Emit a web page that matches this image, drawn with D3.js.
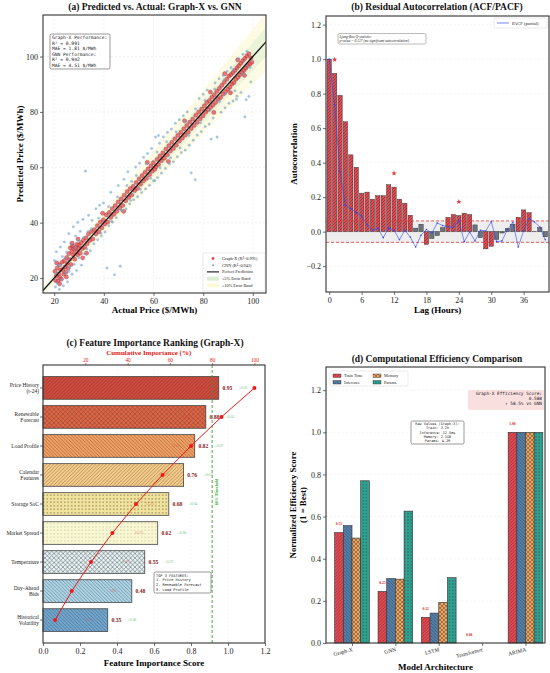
<!doctype html>
<html lang="en">
<head>
<meta charset="utf-8">
<style>
body, html { margin:0; padding:0; background:white; overflow:hidden; }
svg { position:absolute; top:0; left:0; }
</style>
</head>
<body>
<div id="chart"></div>
<script src="https://d3js.org/d3.v7.min.js"></script>
<script>

// ---------- data ----------
// (a) scatter: [actual, predicted]
const graphX = [[20.3,22.4],[20.6,19.1],[20.9,20.8],[21.2,23.6],[21.5,18.9],[21.8,21.5],[22.1,24.8],[22.3,20.2],[22.6,22.9],[22.9,19.6],[23.2,25.7],[23.5,23.1],[23.8,21.4],[24.1,26.3],[24.4,24.0],[24.7,22.1],[25.0,27.4],[25.3,25.2],[25.6,23.5],[25.9,28.8],[26.2,26.7],[26.5,30.9],[26.8,24.9],[27.1,29.6],[27.4,31.5],[27.7,28.3],[28.0,30.6],[28.3,26.8],[28.6,31.0],[28.9,29.5],[29.2,32.2],[29.5,28.4],[29.8,30.7],[30.1,31.9],[30.5,29.0],[30.9,32.8],[31.3,30.6],[31.8,33.7],[32.3,31.1],[32.8,34.5],[33.3,32.4],[33.8,35.9],[34.4,33.6],[35.0,36.8],[35.6,34.1],[36.2,37.5],[36.8,35.9],[37.4,38.9],[38.0,36.7],[38.6,40.2],[39.2,38.1],[39.8,41.0],[40.4,39.5],[41.0,42.8],[41.6,40.2],[42.2,43.7],[42.8,41.9],[43.4,45.1],[44.0,43.0],[44.6,46.2],[45.2,44.1],[45.8,47.5],[46.4,45.3],[47.0,48.6],[47.6,46.2],[48.2,49.9],[48.8,47.9],[49.4,51.2],[50.0,49.1],[50.6,52.3],[51.2,50.0],[51.8,53.1],[52.4,51.6],[53.0,54.5],[53.6,52.4],[54.2,55.8],[54.8,53.9],[55.4,57.0],[56.0,55.1],[56.6,58.2],[57.2,56.0],[57.8,59.4],[58.4,57.3],[59.0,60.5],[59.5,58.6],[60.0,61.7],[60.5,59.3],[61.0,60.2],[61.5,62.9],[62.0,61.0],[62.6,64.1],[63.2,62.4],[63.8,65.2],[64.4,63.3],[65.0,66.6],[65.6,64.5],[66.2,67.8],[66.8,65.9],[67.4,69.0],[68.0,66.8],[68.6,70.3],[69.2,68.0],[69.8,71.5],[70.4,69.4],[71.0,72.6],[71.6,70.5],[72.2,73.9],[72.8,71.6],[73.4,75.1],[74.0,72.7],[74.6,76.3],[75.2,74.0],[75.8,77.4],[76.4,75.1],[77.0,78.8],[77.6,76.2],[78.2,79.9],[78.8,77.5],[79.4,81.0],[80.0,78.6],[80.5,82.2],[81.0,79.9],[81.5,83.4],[82.0,80.8],[82.5,84.1],[83.0,81.6],[83.5,85.3],[84.0,82.5],[84.5,86.2],[85.0,83.4],[85.5,87.4],[86.0,84.6],[86.5,88.5],[87.0,85.2],[87.5,89.6],[88.0,86.4],[88.5,90.7],[89.0,87.3],[89.5,91.8],[90.0,88.2],[90.4,92.9],[90.8,89.0],[91.2,93.5],[91.6,90.1],[92.0,94.2],[92.4,90.6],[92.8,95.0],[93.2,91.8],[93.6,95.9],[94.0,92.5],[94.4,96.7],[94.8,93.4],[95.2,97.6],[95.6,94.3],[96.0,98.5],[96.4,95.0],[96.8,99.3],[97.2,95.8],[97.6,100.2],[98.0,96.7],[98.4,101.0],[98.8,97.3],[99.2,99.5],[99.6,97.9],[88.7,93.8],[91.0,86.9],[93.9,98.8],[96.6,93.2],[84.3,79.8],[82.9,87.2],[72.5,76.8],[66.0,62.1],[57.5,61.8],[48.0,44.1],[39.5,43.4],[33.0,29.0],[27.2,32.6],[24.9,20.4],[22.2,17.9],[21.0,25.5],[29.6,34.1],[31.5,27.3]];

const gnn = [[20.1,26.3],[20.5,16.8],[20.9,29.5],[21.3,18.0],[21.7,24.7],[22.1,15.9],[22.5,31.2],[22.9,19.5],[23.3,27.8],[23.7,17.2],[24.1,33.0],[24.6,21.8],[25.0,29.4],[25.4,18.6],[25.9,36.1],[26.3,23.9],[26.8,32.3],[27.2,21.4],[27.7,38.5],[28.1,25.0],[28.6,35.2],[29.0,22.7],[29.5,40.1],[30.0,27.3],[30.5,36.9],[31.0,24.6],[31.6,41.2],[32.2,28.8],[32.6,58.6],[33.2,30.5],[33.9,42.7],[34.6,29.9],[35.3,40.9],[36.0,32.4],[36.8,45.0],[37.5,33.8],[38.3,46.3],[39.0,35.2],[39.8,47.1],[40.5,36.6],[41.3,23.6],[42.0,38.9],[42.8,51.0],[43.5,40.2],[44.3,21.2],[45.0,41.8],[45.8,53.4],[46.6,24.3],[47.3,44.2],[48.1,55.7],[48.9,45.0],[49.7,58.4],[50.4,46.8],[51.2,54.9],[52.0,48.3],[52.8,60.1],[53.6,49.4],[54.4,61.5],[55.2,50.9],[56.0,63.6],[56.8,52.2],[57.6,65.0],[58.4,53.5],[59.2,66.8],[60.0,55.1],[60.8,70.9],[61.6,56.3],[62.4,68.7],[63.2,57.9],[64.0,71.0],[64.8,59.6],[65.6,72.6],[66.4,61.2],[67.2,73.8],[68.0,62.0],[68.8,75.9],[69.6,63.8],[70.4,77.2],[71.2,65.3],[72.0,78.6],[72.8,66.2],[73.6,80.0],[74.4,68.0],[75.2,58.0],[76.0,69.8],[76.8,55.5],[77.6,71.6],[78.4,84.8],[79.2,72.9],[80.0,86.4],[80.8,74.7],[81.6,87.9],[82.4,75.6],[83.2,70.2],[84.0,77.8],[84.8,90.5],[85.6,70.9],[86.4,92.0],[87.2,79.9],[88.0,93.2],[88.8,81.5],[89.6,94.7],[90.4,83.1],[91.2,96.0],[92.0,83.9],[92.8,87.6],[93.6,85.7],[94.4,99.2],[95.2,87.0],[96.0,100.8],[96.8,78.2],[97.6,101.9],[98.4,85.6],[99.2,90.8],[97.3,84.4],[93.4,84.6],[89.1,86.5],[86.6,83.7],[82.7,80.5],[78.9,76.1],[74.2,71.5],[70.7,67.0],[66.9,63.4],[62.7,59.8],[58.9,56.0],[54.7,52.1],[50.8,48.0],[46.9,44.6],[43.1,40.5],[38.8,36.2],[35.0,37.9],[31.9,34.7],[28.4,30.9],[24.8,27.0],[22.7,24.4],[21.0,21.9],[26.0,22.4],[29.8,33.6],[33.6,36.8],[37.9,41.7],[41.9,45.8],[45.5,49.3],[49.3,53.4],[53.1,57.0],[57.1,61.2],[61.4,65.5],[65.3,69.2],[69.1,72.8],[73.0,76.6],[76.9,81.1],[80.7,84.2],[84.6,88.3],[88.4,91.6],[92.2,95.3],[95.9,93.6],[98.9,96.1],[60.5,55.2],[62.0,71.5]];

const perfBoxLines = ["Graph-X Performance:", "R² = 0.991", "MAE = 1.81 $/MWh", "GNN Performance:", "R² = 0.942", "MAE = 4.51 $/MWh"];
const axTicks = [20, 40, 60, 80, 100];

// (b) autocorrelation, lags 0..40
const acf = [1.0,0.917,0.79,0.637,0.445,0.373,0.223,0.229,0.188,0.208,0.208,0.272,0.258,0.188,0.165,0.095,0.02,0.043,-0.074,-0.04,-0.023,0.023,0.083,0.099,0.093,0.107,0.099,0.039,-0.035,-0.1,-0.085,-0.045,-0.008,0.019,0.043,0.083,0.126,0.11,0.002,0.023,-0.03];
const pacf = [1.0,0.735,0.347,0.153,0.134,0.11,0.091,0.04,0.008,0.019,-0.035,0.021,0.008,-0.047,0.008,-0.031,-0.089,-0.021,0.012,-0.008,0.05,0.035,0.027,0.025,0.066,-0.058,-0.002,-0.054,0.008,0.004,0.058,-0.058,-0.054,0.012,0.054,-0.089,0.004,0.076,0.056,0.027,-0.047];
const confBound = 0.062;
const starLags = [1, 12, 24];
const lagTicks = [0, 6, 12, 18, 24, 30, 36];
const acfTicks = [-0.2, 0.0, 0.2, 0.4, 0.6, 0.8, 1.0, 1.2];

// (c) feature importance
const features = ["Price History\n(t-24)", "Renewable\nForecast", "Load Profile", "Calendar\nFeatures", "Storage SoC", "Market Spread", "Temperature", "Day-Ahead\nBids", "Historical\nVolatility"];
const importance = [0.95, 0.88, 0.82, 0.76, 0.68, 0.62, 0.55, 0.48, 0.35];
const importanceErr = ["±0.03", "±0.05", "±0.07", "±0.05", "±0.04", "±0.06", "±0.07", "", "±0.06"];
const sharePct = ["15.6%", "14.4%", "13.5%", "12.5%", "11.2%", "10.2%", "9.0%", "7.9%", "5.7%"];
const cumulativePct = [100, 84.4, 70.0, 56.5, 44.0, 32.8, 22.7, 13.6, 5.7];
const featColors = ["#d7473a", "#e9643f", "#f8a05f", "#fccf88", "#f3e49b", "#f9f8d2", "#e4f1f5", "#add7ea", "#70a8d3"];
const featHatch = ["fwd", "cross", "back", "fwd", "dots", "fdots", "cross", "back", "back"];
const top3Lines = ["TOP 3 FEATURES:", "1. Price History", "2. Renewable Forecast", "3. Load Profile"];

// (d) efficiency
const models = ["Graph-X", "GNN", "LSTM", "Transformer", "ARIMA"];
const metrics = ["Train Time", "Inference", "Memory", "Params"];
const trainScore = [0.524, 0.245, 0.122, 0.0, 1.0];
const inferScore = [0.557, 0.306, 0.142, 0.0, 1.0];
const memScore = [0.498, 0.303, 0.193, 0.0, 1.0];
const paramScore = [0.77, 0.626, 0.31, 0.0, 1.0];
const trainLabels = ["0.53", "0.25", "0.12", "0.00", "1.00"];
const metricColors = ["#e8474f", "#5381ad", "#f2a35c", "#2fa291"];
const metricHatch = ["fwd", "back", "cross", "dots"];
const rawLines = ["Raw Values (Graph-X):", "Train: 3.2h", "Inference: 12.5ms", "Memory: 2.1GB", "Params: 4.2M"];
const effLines = ["Graph-X Efficiency Score:", "0.588", "↑ 58.5% vs GNN"];

// ---------- setup ----------
const W = 550, H = 673;
const SERIF = "'Liberation Serif', 'DejaVu Serif', serif";
const MONO = "'DejaVu Sans Mono', 'Liberation Mono', monospace";

const svg = d3.select("#chart").append("svg").attr("width", W).attr("height", H);
svg.append("rect").attr("width", W).attr("height", H).attr("fill", "white");
const defs = svg.append("defs");

const pat = (id, color, kind, s = 4, lc = "#333", lw = 0.5) => {
  const p = defs.append("pattern").attr("id", id).attr("patternUnits", "userSpaceOnUse")
    .attr("width", s).attr("height", s);
  p.append("rect").attr("width", s).attr("height", s).attr("fill", color);
  if (kind === "fwd" || kind === "cross") {
    p.append("path").attr("d", `M0,${s} L${s},0 M${-s/2},${s/2} L${s/2},${-s/2} M${s/2},${s*1.5} L${s*1.5},${s/2}`)
      .attr("stroke", lc).attr("stroke-width", lw);
  }
  if (kind === "back" || kind === "cross") {
    p.append("path").attr("d", `M0,0 L${s},${s} M${-s/2},${s/2} L${s/2},${s*1.5} M${s/2},${-s/2} L${s*1.5},${s/2}`)
      .attr("stroke", lc).attr("stroke-width", lw);
  }
  if (kind === "dots") p.append("circle").attr("cx", s/2).attr("cy", s/2).attr("r", 0.55).attr("fill", lc);
  if (kind === "fdots") p.append("circle").attr("cx", s/2).attr("cy", s/2).attr("r", 0.4).attr("fill", lc);
  return `url(#${id})`;
};

const styleAxis = (g, fs) => {
  g.select(".domain").remove();
  g.selectAll(".tick line").attr("stroke", "#333").attr("stroke-width", 0.7);
  g.selectAll(".tick text").attr("font-family", SERIF).attr("font-size", fs).attr("fill", "#222");
};

const frame = (x0, x1, y0, y1) => svg.append("rect").attr("x", x0).attr("y", y0)
  .attr("width", x1 - x0).attr("height", y1 - y0).attr("fill", "none")
  .attr("stroke", "#333").attr("stroke-width", 1.1);

const title = (x, y, t, fs = 9.5) => svg.append("text").attr("x", x).attr("y", y)
  .attr("text-anchor", "middle").attr("font-family", SERIF).attr("font-weight", "bold")
  .attr("font-size", fs).attr("fill", "#111").text(t);

const textBox = (lines, x, y, lh, fs, opt = {}) => {
  const g = svg.append("g");
  const anchor = opt.anchor || "start";
  g.append("rect").attr("x", opt.bx).attr("y", opt.by).attr("width", opt.bw).attr("height", opt.bh)
    .attr("rx", 1.5).attr("fill", opt.fill || "white").attr("fill-opacity", opt.fo ?? 0.9)
    .attr("stroke", opt.stroke || "#333").attr("stroke-width", 0.5);
  lines.forEach((l, i) => g.append("text").attr("x", x).attr("y", y + i * lh)
    .attr("text-anchor", anchor).attr("font-family", opt.font || MONO).attr("font-size", fs)
    .attr("font-style", opt.italic ? "italic" : null).attr("fill", "#222").text(l));
  return g;
};

// ================= (a) =================
{
  const L = 43, R = 266, T = 15, B = 293;
  const x = d3.scaleLinear().domain([15.5, 105.3]).range([L, R]);
  const y = d3.scaleLinear().domain([14.6, 115]).range([B, T]);
  defs.append("clipPath").attr("id", "clipA").append("rect").attr("x", L).attr("y", T).attr("width", R - L).attr("height", B - T);
  const g = svg.append("g").attr("clip-path", "url(#clipA)");

  g.selectAll(".gx").data(axTicks).join("line").attr("x1", d => x(d)).attr("x2", d => x(d)).attr("y1", T).attr("y2", B)
    .attr("stroke", "#e4e4e4").attr("stroke-width", 0.5).attr("stroke-dasharray", "2,2");
  g.selectAll(".gy").data(axTicks).join("line").attr("y1", d => y(d)).attr("y2", d => y(d)).attr("x1", L).attr("x2", R)
    .attr("stroke", "#e4e4e4").attr("stroke-width", 0.5).attr("stroke-dasharray", "2,2");

  const ends = x.domain();
  const band = (k) => d3.area().x(d => x(d)).y0(d => y(d * (1 - k))).y1(d => y(d * (1 + k)))(ends);
  g.append("path").attr("d", band(0.10)).attr("fill", "#fbf7c4").attr("opacity", 0.45);
  g.append("path").attr("d", band(0.05)).attr("fill", "#cfe8c8").attr("opacity", 0.4);

  g.selectAll(".pgx").data(graphX).join("circle")
    .attr("cx", d => x(d[0])).attr("cy", d => y(d[1])).attr("r", 2.1)
    .attr("fill", "#e8474f").attr("fill-opacity", 0.75).attr("stroke", "#7a2020").attr("stroke-width", 0.3);
  g.selectAll(".pgn").data(gnn).join("circle")
    .attr("cx", d => x(d[0])).attr("cy", d => y(d[1])).attr("r", 1.3)
    .attr("fill", "#5f93c0").attr("fill-opacity", 0.55).attr("stroke", "#9fc0dc").attr("stroke-width", 0.2);

  g.append("line").attr("x1", x(ends[0])).attr("y1", y(ends[0])).attr("x2", x(ends[1])).attr("y2", y(ends[1]))
    .attr("stroke", "#111").attr("stroke-width", 1.2);

  const gxA = svg.append("g").attr("transform", `translate(0,${B})`).call(d3.axisBottom(x).tickValues(axTicks).tickSize(3).tickPadding(2));
  styleAxis(gxA, 8);
  const gyA = svg.append("g").attr("transform", `translate(${L},0)`).call(d3.axisLeft(y).tickValues(axTicks).tickSize(3).tickPadding(2));
  styleAxis(gyA, 8);
  frame(L, R, T, B);

  title(155, 10, "(a) Predicted vs. Actual: Graph-X vs. GNN");
  svg.append("text").attr("x", (L + R) / 2).attr("y", 313).attr("text-anchor", "middle")
    .attr("font-family", SERIF).attr("font-weight", "bold").attr("font-size", 9).text("Actual Price ($/MWh)");
  svg.append("text").attr("transform", `translate(23,${(T + B) / 2}) rotate(-90)`).attr("text-anchor", "middle")
    .attr("font-family", SERIF).attr("font-weight", "bold").attr("font-size", 9).text("Predicted Price ($/MWh)");

  textBox(perfBoxLines, 52, 39, 5.6, 4.6, { bx: 50, by: 34, bw: 60, bh: 35 });

  // legend
  const lg = svg.append("g");
  lg.append("rect").attr("x", 203).attr("y", 253).attr("width", 62).attr("height", 38).attr("rx", 1.5)
    .attr("fill", "white").attr("fill-opacity", 0.9).attr("stroke", "#ccc").attr("stroke-width", 0.4);
  const items = ["Graph-X (R²=0.991)", "GNN (R²=0.942)", "Perfect Prediction", "±5% Error Band", "±10% Error Band"];
  items.forEach((t, i) => {
    const yy = 258.5 + i * 6.7;
    if (i === 0) lg.append("circle").attr("cx", 213).attr("cy", yy).attr("r", 1.4).attr("fill", "#e8474f");
    if (i === 1) lg.append("circle").attr("cx", 213).attr("cy", yy).attr("r", 0.9).attr("fill", "#5f93c0");
    if (i === 2) lg.append("line").attr("x1", 207).attr("x2", 219).attr("y1", yy).attr("y2", yy).attr("stroke", "#111").attr("stroke-width", 1.1);
    if (i === 3) lg.append("rect").attr("x", 207).attr("y", yy - 2).attr("width", 12).attr("height", 4).attr("fill", "#dcefd6");
    if (i === 4) lg.append("rect").attr("x", 207).attr("y", yy - 2).attr("width", 12).attr("height", 4).attr("fill", "#fcf9d6");
    lg.append("text").attr("x", 222).attr("y", yy + 1.4).attr("font-family", SERIF).attr("font-size", 4.3).attr("fill", "#222").text(t);
  });
}

// ================= (b) =================
{
  const L = 326, R = 549, T = 16, B = 292;
  const x = d3.scaleLinear().domain([-0.6, 40.7]).range([L, R]);
  const y = d3.scaleLinear().domain([-0.35, 1.25]).range([B, T]);
  const redHatch = pat("hb", "#e8474f", "fwd", 3, "#333", 0.45);

  svg.selectAll(".gyb").data(acfTicks).join("line").attr("x1", L).attr("x2", R).attr("y1", d => y(d)).attr("y2", d => y(d))
    .attr("stroke", "#ececec").attr("stroke-width", 0.5).attr("stroke-dasharray", "2,2");
  svg.append("rect").attr("x", L).attr("width", R - L).attr("y", y(confBound)).attr("height", y(-confBound) - y(confBound))
    .attr("fill", "#d9d9d9").attr("opacity", 0.45);
  svg.append("line").attr("x1", L).attr("x2", R).attr("y1", y(0)).attr("y2", y(0)).attr("stroke", "#888").attr("stroke-width", 0.4);

  svg.selectAll(".acf").data(acf).join("rect")
    .attr("x", (d, i) => x(i - 0.4)).attr("width", x(0.8) - x(0))
    .attr("y", d => y(Math.max(0, d))).attr("height", d => Math.abs(y(d) - y(0)))
    .attr("fill", d => Math.abs(d) > confBound ? redHatch : "#6c757d")
    .attr("stroke", "#333").attr("stroke-width", 0.45);

  [confBound, -confBound].forEach(v => svg.append("line").attr("x1", L).attr("x2", R).attr("y1", y(v)).attr("y2", y(v))
    .attr("stroke", "#ee3333").attr("stroke-width", 0.8).attr("stroke-dasharray", "3,2"));

  svg.append("path").datum(pacf).attr("fill", "none").attr("stroke", "#3344ee").attr("stroke-opacity", 0.75).attr("stroke-width", 0.8)
    .attr("d", d3.line().x((d, i) => x(i)).y(d => y(d)));
  svg.selectAll(".pd").data(pacf).join("circle").attr("cx", (d, i) => x(i)).attr("cy", d => y(d)).attr("r", 0.8).attr("fill", "#3344ee");

  svg.selectAll(".star").data(starLags).join("path")
    .attr("transform", d => `translate(${x(d)},${y(acf[d] + 0.08)})`)
    .attr("d", d3.symbol(d3.symbolStar, 9)).attr("fill", "#dd3333");

  const gxB = svg.append("g").attr("transform", `translate(0,${B})`).call(d3.axisBottom(x).tickValues(lagTicks).tickSize(3).tickPadding(2));
  styleAxis(gxB, 8);
  const gyB = svg.append("g").attr("transform", `translate(${L},0)`).call(d3.axisLeft(y).tickValues(acfTicks).tickFormat(d3.format(".1f")).tickSize(3).tickPadding(2));
  styleAxis(gyB, 8);
  gyB.selectAll(".tick text").text(d => d < 0 ? "−" + Math.abs(d).toFixed(1) : d.toFixed(1));
  frame(L, R, T, B);

  title(437, 10, "(b) Residual Autocorrelation (ACF/PACF)");
  svg.append("text").attr("x", (L + R) / 2).attr("y", 313).attr("text-anchor", "middle")
    .attr("font-family", SERIF).attr("font-weight", "bold").attr("font-size", 9).text("Lag (Hours)");
  svg.append("text").attr("transform", `translate(297,${(T + B) / 2}) rotate(-90)`).attr("text-anchor", "middle")
    .attr("font-family", SERIF).attr("font-weight", "bold").attr("font-size", 9).text("Autocorrelation");

  // legend
  svg.append("rect").attr("x", 494).attr("y", 18).attr("width", 53).attr("height", 10).attr("rx", 1.2)
    .attr("fill", "white").attr("stroke", "#ccc").attr("stroke-width", 0.4);
  svg.append("line").attr("x1", 497).attr("x2", 509).attr("y1", 23).attr("y2", 23).attr("stroke", "#3344ee").attr("stroke-opacity", 0.75).attr("stroke-width", 0.9);
  svg.append("text").attr("x", 512).attr("y", 24.6).attr("font-family", SERIF).attr("font-size", 4.5).attr("fill", "#222").text("PACF (partial)");

  textBox(["Ljung-Box Q-statistic:", "p-value = 0.127 (no significant autocorrelation)"], 339.5, 37.5, 4.3, 3.6,
    { bx: 338, by: 33.5, bw: 88, bh: 10.5, font: SERIF, italic: true, stroke: "#777" });
}

// ================= (c) =================
{
  const L = 43, R = 265, T = 365, B = 643;
  const x = d3.scaleLinear().domain([0, 1.2]).range([L, R]);
  const xTop = d3.scaleLinear().domain([0, 105]).range([L, R]);
  const y = d3.scaleBand().domain(features).range([T, B]).paddingInner(0.22).paddingOuter(0.4);

  svg.selectAll(".gxc").data(d3.range(0, 1.21, 0.2)).join("line").attr("x1", d => x(d)).attr("x2", d => x(d)).attr("y1", T).attr("y2", B)
    .attr("stroke", "#ececec").attr("stroke-width", 0.5).attr("stroke-dasharray", "2,2");

  svg.selectAll(".fbar").data(importance).join("rect")
    .attr("x", L).attr("y", (d, i) => y(features[i])).attr("height", y.bandwidth())
    .attr("width", d => x(d) - L)
    .attr("fill", (d, i) => pat("hc" + i, featColors[i], featHatch[i], featHatch[i] === "cross" ? 4.5 : 3.5, "#444", 0.45))
    .attr("stroke", "#444").attr("stroke-width", 0.8);

  const mid = (i) => y(features[i]) + y.bandwidth() / 2;
  svg.selectAll(".vlab").data(importance).join("text")
    .attr("x", d => x(d + 0.02)).attr("y", (d, i) => mid(i) + 2)
    .attr("font-family", SERIF).attr("font-weight", "bold").attr("font-size", 5.6).attr("fill", "#8b1a1a")
    .text(d => d.toFixed(2));
  svg.selectAll(".elab").data(importance).join("text")
    .attr("x", d => x(d + 0.11)).attr("y", (d, i) => mid(i) + 1.3)
    .attr("font-family", SERIF).attr("font-size", 3.6).attr("fill", "#2e9d3a").attr("opacity", 0.7)
    .text((d, i) => importanceErr[i]);
  svg.selectAll(".slab").data(importance).join("text")
    .attr("x", d => x(d - 0.1)).attr("y", (d, i) => mid(i) + 1.3).attr("text-anchor", "middle")
    .attr("font-family", SERIF).attr("font-size", 3.6).attr("fill", "#cc3333").attr("opacity", 0.5)
    .text((d, i) => sharePct[i]);

  // 80% threshold
  svg.append("line").attr("x1", xTop(80)).attr("x2", xTop(80)).attr("y1", T).attr("y2", B)
    .attr("stroke", "#2ca02c").attr("stroke-width", 0.9).attr("stroke-dasharray", "3,2");
  svg.append("text").attr("transform", `translate(${xTop(80) + 5.5},${492}) rotate(-90)`).attr("text-anchor", "middle")
    .attr("font-family", SERIF).attr("font-weight", "bold").attr("font-size", 4).attr("fill", "#2ca02c").text("80% Threshold");

  // cumulative line
  svg.append("path").datum(cumulativePct).attr("fill", "none").attr("stroke", "#f01818").attr("stroke-width", 1)
    .attr("d", d3.line().x(d => xTop(d)).y((d, i) => mid(i)));
  svg.selectAll(".cm").data(cumulativePct).join("circle").attr("cx", d => xTop(d)).attr("cy", (d, i) => mid(i)).attr("r", 2)
    .attr("fill", "#f01818");

  const gxC = svg.append("g").attr("transform", `translate(0,${B})`).call(d3.axisBottom(x).tickValues(d3.range(0, 1.21, 0.2)).tickFormat(d3.format(".1f")).tickSize(3).tickPadding(2));
  styleAxis(gxC, 8);
  const gtC = svg.append("g").attr("transform", `translate(0,${T})`).call(d3.axisTop(xTop).tickValues([20, 40, 60, 80, 100]).tickSize(2).tickPadding(1));
  styleAxis(gtC, 5.3);
  gtC.selectAll(".tick text").attr("fill", "#e02020");
  gtC.selectAll(".tick line").attr("stroke", "#e02020");
  const gyC = svg.append("g").attr("transform", `translate(${L},0)`).call(d3.axisLeft(y).tickSize(3).tickPadding(2).tickFormat(""));
  styleAxis(gyC, 5.5);
  features.forEach(f => {
    const parts = f.split("\n");
    const cy = y(f) + y.bandwidth() / 2;
    parts.forEach((p, j) => svg.append("text").attr("x", 39).attr("y", cy + 2 + (j - (parts.length - 1) / 2) * 6.4)
      .attr("text-anchor", "end").attr("font-family", SERIF).attr("font-size", 5.5).attr("fill", "#222").text(p));
  });
  frame(L, R, T, B);

  title(155, 345.5, "(c) Feature Importance Ranking (Graph-X)");
  svg.append("text").attr("x", xTop(50)).attr("y", 355.3).attr("text-anchor", "middle")
    .attr("font-family", SERIF).attr("font-weight", "bold").attr("font-size", 7).attr("fill", "#e02020").text("Cumulative Importance (%)");
  svg.append("text").attr("x", (L + R) / 2).attr("y", 666).attr("text-anchor", "middle")
    .attr("font-family", SERIF).attr("font-weight", "bold").attr("font-size", 9).text("Feature Importance Score");

  textBox(top3Lines, 156, 576.5, 4.7, 3.6, { bx: 154, by: 572, bw: 57, bh: 21, fo: 1 });
}

// ================= (d) =================
{
  const L = 326, R = 545, T = 367, B = 643;
  const x = d3.scaleLinear().domain([-0.6, 4.45]).range([L, R]);
  const y = d3.scaleLinear().domain([0, 1.31]).range([B, T]);
  const yTicks = [0, 0.2, 0.4, 0.6, 0.8, 1.0, 1.2];
  const series = [trainScore, inferScore, memScore, paramScore];
  const fills = metrics.map((m, k) => pat("hd" + k, metricColors[k], metricHatch[k], metricHatch[k] === "cross" ? 4 : 3.2, "#333", 0.45));

  svg.selectAll(".gyd").data(yTicks).join("line").attr("x1", L).attr("x2", R).attr("y1", d => y(d)).attr("y2", d => y(d))
    .attr("stroke", "#ececec").attr("stroke-width", 0.5).attr("stroke-dasharray", "2,2");

  series.forEach((vals, k) => {
    svg.selectAll(".db" + k).data(vals).join("rect")
      .attr("x", (d, i) => x(i - 0.4 + k * 0.2)).attr("width", x(0.2) - x(0))
      .attr("y", d => y(d)).attr("height", d => y(0) - y(d))
      .attr("fill", fills[k]).attr("stroke", "#333").attr("stroke-width", 0.6);
  });
  svg.selectAll(".tl").data(trainScore).join("text")
    .attr("x", (d, i) => x(i - 0.3)).attr("y", d => y(d + 0.035))
    .attr("text-anchor", "middle").attr("font-family", SERIF).attr("font-weight", "bold").attr("font-size", 3.6)
    .attr("fill", "#cc2222").text((d, i) => trainLabels[i]);

  const gxD = svg.append("g").attr("transform", `translate(0,${B})`).call(d3.axisBottom(x).tickValues(d3.range(models.length)).tickSize(3).tickFormat(""));
  styleAxis(gxD, 6);
  models.forEach((m, i) => svg.append("text").attr("transform", `translate(${x(i) + 1},${B + 8}) rotate(-15)`)
    .attr("text-anchor", "end").attr("font-family", SERIF).attr("font-size", 5.5).attr("fill", "#222").text(m));
  const gyD = svg.append("g").attr("transform", `translate(${L},0)`).call(d3.axisLeft(y).tickValues(yTicks).tickFormat(d3.format(".1f")).tickSize(3).tickPadding(2));
  styleAxis(gyD, 8);
  frame(L, R, T, B);

  title(437, 362, "(d) Computational Efficiency Comparison");
  svg.append("text").attr("x", (L + R) / 2).attr("y", 670).attr("text-anchor", "middle")
    .attr("font-family", SERIF).attr("font-weight", "bold").attr("font-size", 9).text("Model Architecture");
  ["Normalized Efficiency Score", "(1 = Best)"].forEach((t, j) => svg.append("text")
    .attr("transform", `translate(${296 + j * 10},${(T + B) / 2}) rotate(-90)`).attr("text-anchor", "middle")
    .attr("font-family", SERIF).attr("font-weight", "bold").attr("font-size", 8.8).text(t));

  // legend
  svg.append("rect").attr("x", 330).attr("y", 371).attr("width", 78).attr("height", 15).attr("rx", 1.2)
    .attr("fill", "white").attr("stroke", "#ccc").attr("stroke-width", 0.4);
  metrics.forEach((m, k) => {
    const lx = 333 + Math.floor(k / 2) * 40, ly = 374 + (k % 2) * 6.5;
    svg.append("rect").attr("x", lx).attr("y", ly).attr("width", 8).attr("height", 3.5).attr("fill", fills[k]).attr("stroke", "#333").attr("stroke-width", 0.4);
    svg.append("text").attr("x", lx + 11).attr("y", ly + 3).attr("font-family", SERIF).attr("font-size", 4.2).attr("fill", "#222").text(m);
  });

  textBox(effLines, 542, 395, 5.2, 4.4, { anchor: "end", bx: 468, by: 390, bw: 76, bh: 20, fill: "#f6c9c9", fo: 0.6, stroke: "none" });
  textBox(rawLines, 437.5, 425, 4.3, 3.5, { anchor: "middle", bx: 411, by: 421, bw: 53, bh: 23 });
}
</script>
</body>
</html>
